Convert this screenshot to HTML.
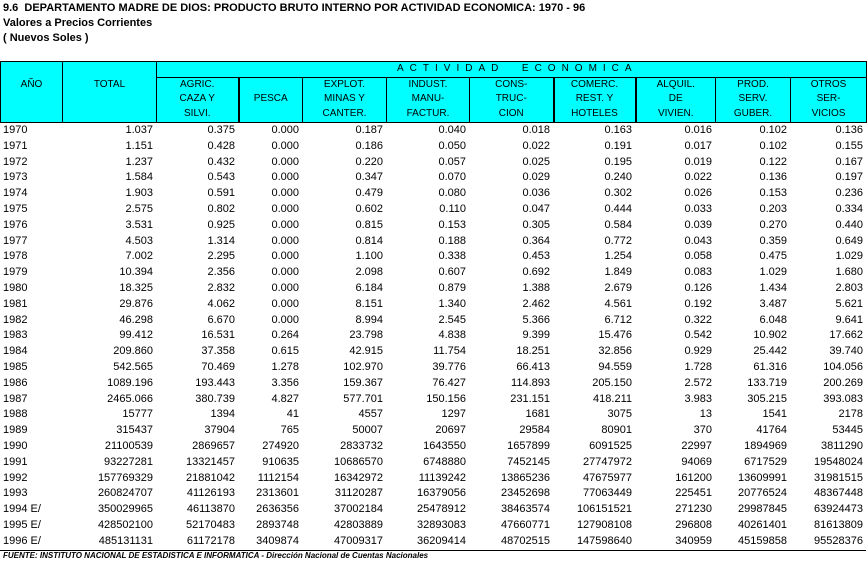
<!DOCTYPE html>
<html><head><meta charset="utf-8"><style>
body{margin:0;background:#fff;width:867px;height:563px;position:relative;overflow:hidden;font-family:"Liberation Sans",Arial,sans-serif;color:#000}
.t{position:absolute;left:3px;font-weight:bold;font-size:11px;white-space:nowrap}
table{border-collapse:collapse;table-layout:fixed;position:absolute;left:0;width:866px}
#h{top:61px}
#h td{border:1px solid #000;background:#0ff;text-align:center;font-size:10px;padding:0;vertical-align:middle;line-height:14.6px}
#h td.k{border-left:2px solid #000}
#d{top:123px;font-size:11px}
#d td{height:15.8px;padding:0 3px 0 0;text-align:right;white-space:nowrap;line-height:15.8px}
#d td:first-child{text-align:left;padding:0 0 0 3px}
#d tr:last-child td{border-bottom:1px solid #000}
.f{position:absolute;left:3px;top:551px;font-size:8px;font-weight:bold;font-style:italic;white-space:nowrap}
</style></head><body>
<div class="t" style="top:2px">9.6&nbsp; DEPARTAMENTO MADRE DE DIOS: PRODUCTO BRUTO INTERNO POR ACTIVIDAD ECONOMICA: 1970 - 96</div>
<div class="t" style="top:17px">Valores a Precios Corrientes</div>
<div class="t" style="top:32px">( Nuevos Soles )</div>
<table id="h">
<colgroup><col style="width:62px"><col style="width:94px"><col style="width:82px"><col style="width:64px"><col style="width:84px"><col style="width:83px"><col style="width:84px"><col style="width:82px"><col style="width:80px"><col style="width:75px"><col style="width:76px"></colgroup>
<tr style="height:15px"><td rowspan="2" style="vertical-align:top;padding-top:16px">AÑO</td><td rowspan="2" style="vertical-align:top;padding-top:16px">TOTAL</td><td colspan="9" style="letter-spacing:6px;text-align:left;padding-left:240px">ACTIVIDAD&nbsp;&nbsp;ECONOMICA</td></tr>
<tr style="height:45px"><td>AGRIC.<br>CAZA Y<br>SILVI.</td><td class="k">PESCA</td><td>EXPLOT.<br>MINAS Y<br>CANTER.</td><td>INDUST.<br>MANU-<br>FACTUR.</td><td>CONS-<br>TRUC-<br>CION</td><td class="k">COMERC.<br>REST. Y<br>HOTELES</td><td class="k">ALQUIL.<br>DE<br>VIVIEN.</td><td>PROD.<br>SERV.<br>GUBER.</td><td>OTROS<br>SER-<br>VICIOS</td></tr>
</table>
<table id="d">
<colgroup><col style="width:62px"><col style="width:94px"><col style="width:82px"><col style="width:64px"><col style="width:84px"><col style="width:83px"><col style="width:84px"><col style="width:82px"><col style="width:80px"><col style="width:75px"><col style="width:76px"></colgroup>
<tr><td>1970</td><td>1.037</td><td>0.375</td><td>0.000</td><td>0.187</td><td>0.040</td><td>0.018</td><td>0.163</td><td>0.016</td><td>0.102</td><td>0.136</td></tr>
<tr><td>1971</td><td>1.151</td><td>0.428</td><td>0.000</td><td>0.186</td><td>0.050</td><td>0.022</td><td>0.191</td><td>0.017</td><td>0.102</td><td>0.155</td></tr>
<tr><td>1972</td><td>1.237</td><td>0.432</td><td>0.000</td><td>0.220</td><td>0.057</td><td>0.025</td><td>0.195</td><td>0.019</td><td>0.122</td><td>0.167</td></tr>
<tr><td>1973</td><td>1.584</td><td>0.543</td><td>0.000</td><td>0.347</td><td>0.070</td><td>0.029</td><td>0.240</td><td>0.022</td><td>0.136</td><td>0.197</td></tr>
<tr><td>1974</td><td>1.903</td><td>0.591</td><td>0.000</td><td>0.479</td><td>0.080</td><td>0.036</td><td>0.302</td><td>0.026</td><td>0.153</td><td>0.236</td></tr>
<tr><td>1975</td><td>2.575</td><td>0.802</td><td>0.000</td><td>0.602</td><td>0.110</td><td>0.047</td><td>0.444</td><td>0.033</td><td>0.203</td><td>0.334</td></tr>
<tr><td>1976</td><td>3.531</td><td>0.925</td><td>0.000</td><td>0.815</td><td>0.153</td><td>0.305</td><td>0.584</td><td>0.039</td><td>0.270</td><td>0.440</td></tr>
<tr><td>1977</td><td>4.503</td><td>1.314</td><td>0.000</td><td>0.814</td><td>0.188</td><td>0.364</td><td>0.772</td><td>0.043</td><td>0.359</td><td>0.649</td></tr>
<tr><td>1978</td><td>7.002</td><td>2.295</td><td>0.000</td><td>1.100</td><td>0.338</td><td>0.453</td><td>1.254</td><td>0.058</td><td>0.475</td><td>1.029</td></tr>
<tr><td>1979</td><td>10.394</td><td>2.356</td><td>0.000</td><td>2.098</td><td>0.607</td><td>0.692</td><td>1.849</td><td>0.083</td><td>1.029</td><td>1.680</td></tr>
<tr><td>1980</td><td>18.325</td><td>2.832</td><td>0.000</td><td>6.184</td><td>0.879</td><td>1.388</td><td>2.679</td><td>0.126</td><td>1.434</td><td>2.803</td></tr>
<tr><td>1981</td><td>29.876</td><td>4.062</td><td>0.000</td><td>8.151</td><td>1.340</td><td>2.462</td><td>4.561</td><td>0.192</td><td>3.487</td><td>5.621</td></tr>
<tr><td>1982</td><td>46.298</td><td>6.670</td><td>0.000</td><td>8.994</td><td>2.545</td><td>5.366</td><td>6.712</td><td>0.322</td><td>6.048</td><td>9.641</td></tr>
<tr><td>1983</td><td>99.412</td><td>16.531</td><td>0.264</td><td>23.798</td><td>4.838</td><td>9.399</td><td>15.476</td><td>0.542</td><td>10.902</td><td>17.662</td></tr>
<tr><td>1984</td><td>209.860</td><td>37.358</td><td>0.615</td><td>42.915</td><td>11.754</td><td>18.251</td><td>32.856</td><td>0.929</td><td>25.442</td><td>39.740</td></tr>
<tr><td>1985</td><td>542.565</td><td>70.469</td><td>1.278</td><td>102.970</td><td>39.776</td><td>66.413</td><td>94.559</td><td>1.728</td><td>61.316</td><td>104.056</td></tr>
<tr><td>1986</td><td>1089.196</td><td>193.443</td><td>3.356</td><td>159.367</td><td>76.427</td><td>114.893</td><td>205.150</td><td>2.572</td><td>133.719</td><td>200.269</td></tr>
<tr><td>1987</td><td>2465.066</td><td>380.739</td><td>4.827</td><td>577.701</td><td>150.156</td><td>231.151</td><td>418.211</td><td>3.983</td><td>305.215</td><td>393.083</td></tr>
<tr><td>1988</td><td>15777</td><td>1394</td><td>41</td><td>4557</td><td>1297</td><td>1681</td><td>3075</td><td>13</td><td>1541</td><td>2178</td></tr>
<tr><td>1989</td><td>315437</td><td>37904</td><td>765</td><td>50007</td><td>20697</td><td>29584</td><td>80901</td><td>370</td><td>41764</td><td>53445</td></tr>
<tr><td>1990</td><td>21100539</td><td>2869657</td><td>274920</td><td>2833732</td><td>1643550</td><td>1657899</td><td>6091525</td><td>22997</td><td>1894969</td><td>3811290</td></tr>
<tr><td>1991</td><td>93227281</td><td>13321457</td><td>910635</td><td>10686570</td><td>6748880</td><td>7452145</td><td>27747972</td><td>94069</td><td>6717529</td><td>19548024</td></tr>
<tr><td>1992</td><td>157769329</td><td>21881042</td><td>1112154</td><td>16342972</td><td>11139242</td><td>13865236</td><td>47675977</td><td>161200</td><td>13609991</td><td>31981515</td></tr>
<tr><td>1993</td><td>260824707</td><td>41126193</td><td>2313601</td><td>31120287</td><td>16379056</td><td>23452698</td><td>77063449</td><td>225451</td><td>20776524</td><td>48367448</td></tr>
<tr><td>1994 E/</td><td>350029965</td><td>46113870</td><td>2636356</td><td>37002184</td><td>25478912</td><td>38463574</td><td>106151521</td><td>271230</td><td>29987845</td><td>63924473</td></tr>
<tr><td>1995 E/</td><td>428502100</td><td>52170483</td><td>2893748</td><td>42803889</td><td>32893083</td><td>47660771</td><td>127908108</td><td>296808</td><td>40261401</td><td>81613809</td></tr>
<tr><td>1996 E/</td><td>485131131</td><td>61172178</td><td>3409874</td><td>47009317</td><td>36209414</td><td>48702515</td><td>147598640</td><td>340959</td><td>45159858</td><td>95528376</td></tr>
</table>
<div class="f">FUENTE: INSTITUTO NACIONAL DE ESTADISTICA E INFORMATICA - Dirección Nacional de Cuentas Nacionales</div>
</body></html>
